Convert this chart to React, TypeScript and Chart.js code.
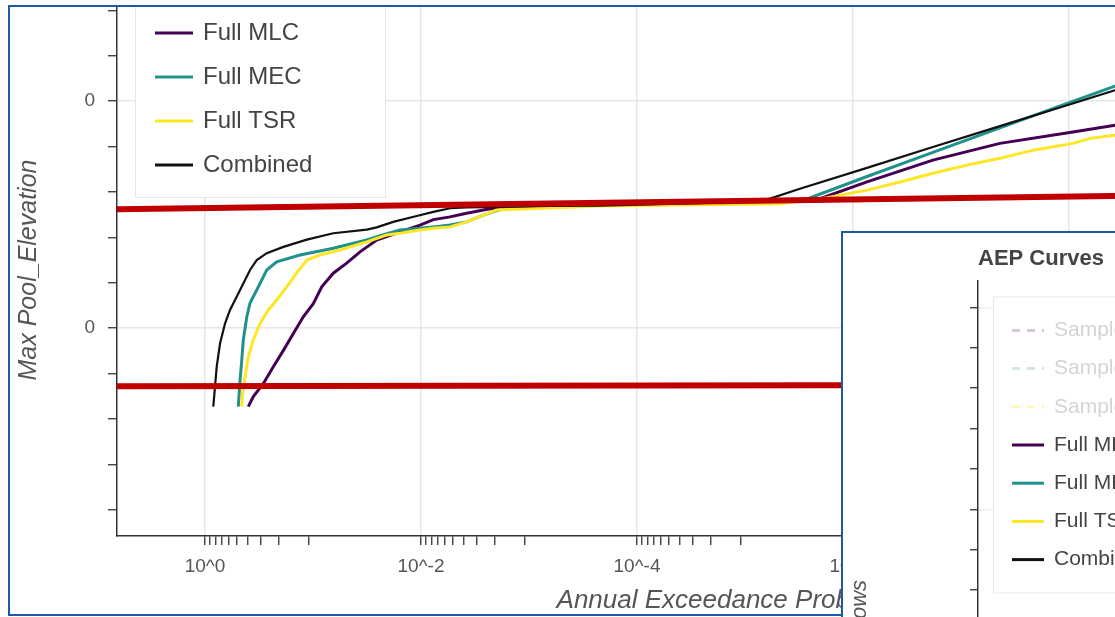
import React, { useEffect, useRef } from "react";
import { Chart, registerables } from "chart.js";

Chart.register(...registerables);

const FONT = "'Liberation Sans', Arial, Helvetica, sans-serif";
const FRAME_BLUE = "#1c5aa6";

// ---------------- main chart data ----------------
// x: Annual Exceedance Probability, y: Max Pool Elevation (relative units)
const mlcAep = [0.397, 0.357, 0.288, 0.233, 0.188, 0.152, 0.123, 0.0994, 0.083, 0.0649, 0.0488, 0.0367, 0.0257, 0.0156, 0.0102, 0.00769, 0.00538, 0.00378, 0.00265, 0.00214, 2.2e-4, 2.61e-5, 2.15e-6, 7.42e-7, 1.82e-7, 4.36e-8, 9.18e-9, 3.75e-9, 1.44e-9];
const mlcElev = [-1.73, -1.51, -1.22, -0.85, -0.49, -0.12, 0.25, 0.54, 0.91, 1.21, 1.43, 1.68, 1.94, 2.12, 2.27, 2.39, 2.45, 2.53, 2.6, 2.64, 2.73, 2.76, 2.83, 3.22, 3.7, 4.07, 4.32, 4.47, 4.63];

const mecAep = [0.492, 0.474, 0.457, 0.442, 0.411, 0.383, 0.332, 0.268, 0.217, 0.132, 0.0649, 0.0318, 0.0223, 0.0156, 0.00769, 0.00538, 0.00378, 0.00265, 0.00186, 0.0015, 2.2e-4, 2.61e-5, 2.78e-6, 7.42e-7, 1.82e-7, 4.36e-8, 1.04e-8, 3.75e-9, 1.44e-9];
const mecElev = [-1.73, -1.15, -0.71, -0.26, 0.24, 0.55, 0.84, 1.28, 1.46, 1.61, 1.76, 1.94, 2.06, 2.16, 2.23, 2.27, 2.34, 2.49, 2.61, 2.67, 2.72, 2.75, 2.83, 3.34, 3.87, 4.41, 4.95, 5.33, 5.69];

const tsrAep = [0.457, 0.448, 0.426, 0.397, 0.357, 0.31, 0.259, 0.217, 0.175, 0.142, 0.114, 0.0861, 0.0562, 0.0318, 0.0208, 0.0156, 0.0102, 0.00769, 0.00538, 0.00378, 0.00265, 0.00199, 2.2e-4, 2.61e-5, 4.74e-6, 1.74e-6, 7.42e-7, 3.67e-7, 1.82e-7, 8.8e-8, 4.36e-8, 2.15e-8, 9.18e-9, 6.4e-9, 3.75e-9, 1.44e-9];
const tsrElev = [-1.73, -1.44, -1.07, -0.63, -0.26, 0.1, 0.4, 0.62, 0.91, 1.21, 1.5, 1.61, 1.72, 1.9, 2.05, 2.09, 2.16, 2.2, 2.23, 2.34, 2.49, 2.6, 2.69, 2.72, 2.74, 2.87, 3.04, 3.22, 3.41, 3.59, 3.74, 3.92, 4.07, 4.18, 4.25, 4.4];

const combinedAep = [0.838, 0.808, 0.779, 0.726, 0.653, 0.587, 0.509, 0.442, 0.383, 0.332, 0.268, 0.188, 0.114, 0.0649, 0.0318, 0.0257, 0.0181, 0.01096, 0.00769, 0.00538, 0.00378, 0.00186, 6.4e-4, 2.2e-4, 2.61e-5, 6.25e-6, 3.1e-6, 7.42e-7, 1.82e-7, 4.36e-8, 1.04e-8, 3.75e-9, 1.44e-9];
const combinedElev = [-1.73, -1.29, -0.85, -0.34, 0.1, 0.4, 0.69, 0.98, 1.28, 1.5, 1.65, 1.79, 1.95, 2.09, 2.17, 2.22, 2.34, 2.47, 2.56, 2.64, 2.66, 2.67, 2.69, 2.7, 2.75, 2.83, 3.07, 3.53, 3.99, 4.45, 4.91, 5.24, 5.55];

// red reference lines (annotation)
const refLineAep = [6.53, 2.2e-11];
const upperRefElev = [2.62, 2.98];
const lowerRefElev = [-1.28, -1.24];

// axes
const xMin = 2.2e-11;
const xMax = 6.53;
const yMin = -4.58;
const yMax = 7.14;
const xMajorTicks = [1, 1e-2, 1e-4, 1e-6, 1e-8, 1e-10];
const xMajorLabels = ["10^0", "10^-2", "10^-4", "10^-6", "10^-8", "10^-10"];
const yTickValues = [-4, -3, -2, -1, 0, 1, 2, 3, 4, 5, 6, 7];
const yTickLabels = ["", "", "", "", "0", "", "", "", "", "0", "", ""];

// inset chart (AEP Curves)
const insetLabels = ["Sample MLC", "Sample MEC", "Sample TSR", "Full MLC", "Full MEC", "Full TSR", "Combined"];
const insetTickValues = [-5, -4, -3, -2, -1, 0, 1, 2, 3, 4, 5, 6, 7, 8, 9, 10];

const zip = (xs: number[], ys: number[]) => xs.map((x, i) => ({ x, y: ys[i] }));

function buildXTicks() {
  const ticks: any[] = [];
  xMajorTicks.forEach((v, i) => {
    ticks.push({ value: v, lab: xMajorLabels[i] });
    const lo = xMajorTicks[i + 1];
    if (lo !== undefined) {
      for (let n = 1; n <= 9; n++) ticks.push({ value: lo + (n * (v - lo)) / 10, lab: "" });
    }
  });
  return ticks.sort((a, b) => a.value - b.value);
}

function noScalePadding(scale: any) {
  scale.paddingTop = 0;
  scale.paddingBottom = 0;
  scale.paddingLeft = 0;
  scale.paddingRight = 0;
}

function boxLegend(id: string, cfg: any) {
  return {
    id,
    afterDatasetsDraw(chart: any) {
      const { ctx, chartArea } = chart;
      const items = chart.data.datasets.filter((d: any) => d.inLegend);
      const x0 = chartArea.left + cfg.dx;
      const y0 = chartArea.top + cfg.dy;
      ctx.save();
      ctx.fillStyle = "#ffffff";
      ctx.fillRect(x0, y0, cfg.w, cfg.h);
      ctx.strokeStyle = cfg.border;
      ctx.lineWidth = 1;
      ctx.strokeRect(x0 + 0.5, y0 + 0.5, cfg.w, cfg.h);
      ctx.font = `${cfg.fontSize}px ${FONT}`;
      ctx.textBaseline = "middle";
      ctx.textAlign = "left";
      items.forEach((d: any, i: number) => {
        const y = y0 + cfg.firstRow + i * cfg.rowStep;
        ctx.beginPath();
        ctx.setLineDash(d.borderDash || []);
        ctx.strokeStyle = d.borderColor;
        ctx.lineWidth = cfg.lineWidth;
        ctx.moveTo(x0 + cfg.lineX0, y);
        ctx.lineTo(x0 + cfg.lineX1, y);
        ctx.stroke();
        ctx.setLineDash([]);
        ctx.fillStyle = d.legendTextColor || cfg.textColor;
        ctx.fillText(d.label, x0 + cfg.textX, y);
      });
      ctx.restore();
    },
  };
}

export default function App() {
  const mainRef = useRef<HTMLCanvasElement>(null);
  const insetRef = useRef<HTMLCanvasElement>(null);

  useEffect(() => {
    Chart.defaults.font.family = FONT;
    const xTicks = buildXTicks();
    const curve = (label: string, xs: number[], ys: number[], color: string, width: number, order: number) => ({
      label,
      data: zip(xs, ys),
      borderColor: color,
      backgroundColor: color,
      borderWidth: width,
      pointRadius: 0,
      tension: 0,
      order,
      inLegend: true,
    });
    const refLine = (label: string, ys: number[]) => ({
      label,
      data: zip(refLineAep, ys),
      borderColor: "#c00000",
      backgroundColor: "#c00000",
      borderWidth: 6,
      pointRadius: 0,
      order: 1,
      inLegend: false,
    });

    const main = new Chart(mainRef.current!, {
      type: "line",
      data: {
        datasets: [
          refLine("Upper reference", upperRefElev),
          refLine("Lower reference", lowerRefElev),
          curve("Full MLC", mlcAep, mlcElev, "#440154", 3, 5),
          curve("Full MEC", mecAep, mecElev, "#21918c", 3, 4),
          curve("Full TSR", tsrAep, tsrElev, "#fde725", 3, 3),
          curve("Combined", combinedAep, combinedElev, "#111111", 2.2, 2),
        ] as any,
      },
      options: {
        responsive: false,
        animation: false,
        events: [],
        layout: { padding: { left: 0, top: 4, right: 18, bottom: 0 } },
        plugins: { legend: { display: false }, tooltip: { enabled: false }, title: { display: false } },
        scales: {
          x: {
            type: "logarithmic",
            reverse: true,
            min: xMin,
            max: xMax,
            afterBuildTicks: (scale: any) => {
              scale.ticks = xTicks.map((t) => ({ ...t }));
            },
            afterFit: (scale: any) => {
              scale.height = 81;
              noScalePadding(scale);
            },
            ticks: {
              autoSkip: false,
              maxRotation: 0,
              minRotation: 0,
              padding: 10,
              color: "#555",
              font: { size: 19 },
              callback: (_v: any, i: number, ticks: any[]) => ticks[i].lab,
            },
            grid: {
              color: (c: any) => (c.tick && c.tick.lab ? "#e6e6e6" : "rgba(0,0,0,0)"),
              lineWidth: 1.5,
              tickColor: "#333",
              tickLength: 9,
              tickWidth: 1.3,
            },
            border: { display: true, color: "#333", width: 1.5 },
            title: {
              display: true,
              text: "Annual Exceedance Probability",
              color: "#555",
              font: { size: 26, style: "italic" },
              padding: { top: 0, bottom: 1 },
            },
          },
          y: {
            type: "linear",
            min: yMin,
            max: yMax,
            afterBuildTicks: (scale: any) => {
              scale.ticks = yTickValues.map((v, i) => ({ value: v, lab: yTickLabels[i] }));
            },
            afterFit: (scale: any) => {
              scale.width = 117;
              noScalePadding(scale);
            },
            ticks: {
              autoSkip: false,
              padding: 13,
              color: "#555",
              font: { size: 19 },
              callback: (_v: any, i: number, ticks: any[]) => ticks[i].lab,
            },
            grid: {
              color: (c: any) => (c.tick && c.tick.lab ? "#e6e6e6" : "rgba(0,0,0,0)"),
              lineWidth: 1.5,
              tickColor: "#333",
              tickLength: 9,
              tickWidth: 1.3,
            },
            border: { display: true, color: "#333", width: 1.5 },
            title: {
              display: true,
              text: "Max Pool_Elevation",
              color: "#555",
              font: { size: 25, style: "italic" },
              padding: { top: 14, bottom: 0 },
            },
          },
        },
      } as any,
      plugins: [
        boxLegend("mainLegend", {
          dx: 18, dy: -3, w: 250, h: 196, border: "#e6e6e6",
          firstRow: 32, rowStep: 44, lineX0: 20, lineX1: 58, textX: 68,
          fontSize: 24, lineWidth: 3, textColor: "#444",
        }),
      ],
    });

    const insetColors = [
      "rgba(68,1,84,0.22)", "rgba(33,145,140,0.22)", "rgba(253,231,37,0.3)",
      "#440154", "#21918c", "#fde725", "#111111",
    ];
    const inset = new Chart(insetRef.current!, {
      type: "line",
      data: {
        datasets: insetLabels.map((label, i) => ({
          label,
          data: [],
          borderColor: insetColors[i],
          borderDash: i < 3 ? [8, 7] : [],
          borderWidth: i < 3 ? 2 : 3,
          pointRadius: 0,
          inLegend: true,
          legendTextColor: i < 3 ? "#d4d4d4" : "#444",
        })) as any,
      },
      options: {
        responsive: false,
        animation: false,
        events: [],
        layout: { padding: { left: 0, top: 0, right: 0, bottom: 16 } },
        plugins: {
          legend: { display: false },
          tooltip: { enabled: false },
          title: {
            display: true,
            text: "AEP Curves",
            align: "start",
            fullSize: false,
            color: "#444",
            font: { size: 22, weight: "bold" },
            padding: { top: 13, bottom: 8 },
          },
        },
        scales: {
          x: { type: "linear", display: false, min: 0, max: 1 },
          y: {
            type: "linear",
            min: -5.59,
            max: 10.668,
            afterBuildTicks: (scale: any) => {
              scale.ticks = insetTickValues.map((v) => ({ value: v }));
            },
            afterFit: (scale: any) => {
              scale.width = 135;
              noScalePadding(scale);
            },
            ticks: { autoSkip: false, callback: () => "", padding: 0 },
            grid: {
              color: (c: any) => (c.tick && c.tick.value % 5 === 0 ? "#eeeeee" : "rgba(0,0,0,0)"),
              lineWidth: 1.5,
              tickColor: "#333",
              tickLength: 8,
              tickWidth: 1.3,
            },
            border: { display: true, color: "#333", width: 1.5 },
            title: {
              display: true,
              text: "Flows",
              color: "#555",
              font: { size: 22, style: "italic" },
              padding: { top: 4, bottom: 0 },
            },
          },
        },
      } as any,
      plugins: [
        boxLegend("insetLegend", {
          dx: 15, dy: 16, w: 300, h: 296, border: "#eaeaea",
          firstRow: 34, rowStep: 38.2, lineX0: 19, lineX1: 51, textX: 61,
          fontSize: 21, lineWidth: 3, textColor: "#444",
        }),
      ],
    });

    return () => {
      main.destroy();
      inset.destroy();
    };
  }, []);

  return (
    <div style={{ position: "fixed", left: 0, top: 0, width: 1115, height: 617, overflow: "hidden", background: "#fff" }}>
      <div
        style={{
          position: "absolute", left: 8, top: 5, width: 1300, height: 611,
          border: `2px solid ${FRAME_BLUE}`, boxSizing: "border-box", overflow: "hidden", background: "#fff",
        }}
      >
        <div style={{ position: "absolute", left: -10, top: -7, width: 1374, height: 617 }}>
          <canvas ref={mainRef} width={1374} height={617} style={{ display: "block" }} />
        </div>
      </div>
      <div
        style={{
          position: "absolute", left: 841, top: 231, width: 420, height: 500,
          border: `2px solid ${FRAME_BLUE}`, boxSizing: "border-box", overflow: "hidden", background: "#fff",
        }}
      >
        <div style={{ position: "absolute", left: 0, top: 0, width: 400, height: 720 }}>
          <canvas ref={insetRef} width={400} height={720} style={{ display: "block" }} />
        </div>
      </div>
    </div>
  );
}
